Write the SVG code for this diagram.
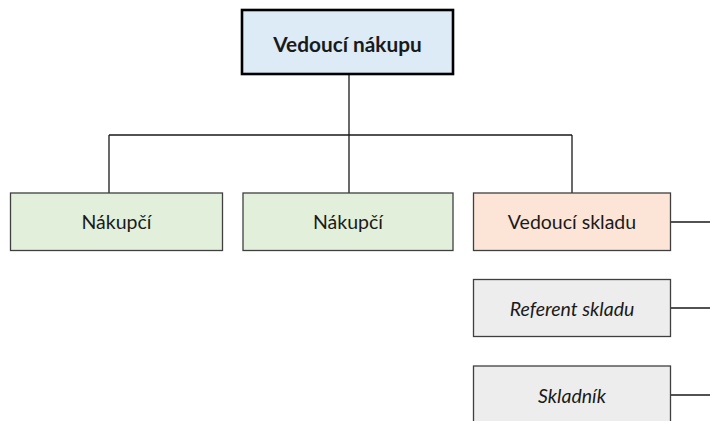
<svg xmlns="http://www.w3.org/2000/svg" width="710" height="421" viewBox="0 0 710 421">
<style>
.box{stroke:#3f3f3f;stroke-width:1.3}
.t{font-family:"Lato","Open Sans","Liberation Sans",sans-serif;font-size:19.5px;fill:#1a1a1a;text-anchor:middle;dominant-baseline:central}
.b{font-weight:bold;font-size:20.8px}
.i{font-style:italic}
.c{stroke:#1a1a1a;stroke-width:1.3;fill:none}
</style>
<rect width="710" height="421" fill="#ffffff"/>
<g id="connectors">
<path class="c" d="M349 75V135M109 135H572M109 135V193M349 135V193M572 135V193"/>
<path class="c" d="M671 222H710M671 308H710M671 395H710"/>
</g>
<g id="vedouci-nakupu">
<rect x="242" y="10" width="211" height="64" fill="#ddebf7" stroke="#000" stroke-width="2.6"/>
<text class="t b" x="347.5" y="43">Vedoucí nákupu</text>
</g>
<g id="nakupci-1">
<rect class="box" x="10.5" y="193" width="212" height="57.5" fill="#e2efda"/>
<text class="t" x="116.5" y="221.5">Nákupčí</text>
</g>
<g id="nakupci-2">
<rect class="box" x="243" y="193" width="210" height="57.5" fill="#e2efda"/>
<text class="t" x="348" y="221.5">Nákupčí</text>
</g>
<g id="vedouci-skladu">
<rect class="box" x="473.5" y="193" width="197" height="57.5" fill="#fce4d6"/>
<text class="t" x="572" y="221.5">Vedoucí skladu</text>
</g>
<g id="referent-skladu">
<rect class="box" x="473.5" y="279.5" width="197" height="57" fill="#ededed"/>
<text class="t i" x="572" y="308">Referent skladu</text>
</g>
<g id="skladnik">
<rect class="box" x="473.5" y="366" width="197" height="60" fill="#ededed"/>
<text class="t i" x="572" y="395">Skladník</text>
</g>
</svg>
